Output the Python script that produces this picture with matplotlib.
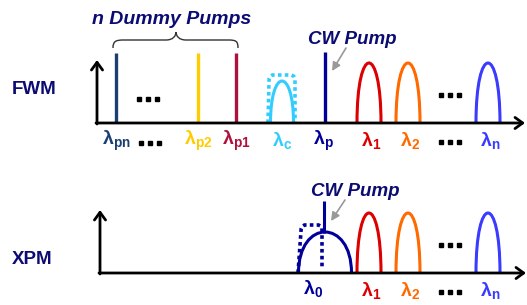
import matplotlib
matplotlib.use("Agg")
import matplotlib.pyplot as plt
from matplotlib.path import Path
from matplotlib.patches import PathPatch, FancyArrowPatch

plt.rcParams['font.family'] = ['Liberation Sans', 'DejaVu Sans']
plt.rcParams['mathtext.fontset'] = 'custom'
plt.rcParams['mathtext.rm'] = 'Liberation Sans'
plt.rcParams['mathtext.bf'] = 'Liberation Sans:bold'

NAVY = "#0b0b73"

# top panel (FWM)
pump_x = [116, 198, 236]
pump_labels = ["pn", "p2", "p1"]
pump_colors = ["#1c3f72", "#ffcc00", "#b0103c"]
cw_x = 325
signal_x = [369, 408, 488]
signal_labels = ["1", "2", "n"]
signal_colors = ["#dd0000", "#ff6a00", "#3b3bff"]
conj_x = 282
conj_color = "#33ccff"

# bottom panel (XPM)
xpm_probe_x = 313
xpm_probe_label = "0"


def arch(ax, xc, w, base, h, color, lw=2.2, ls='-'):
    c = base - 4.0 * h / 3.0
    x0, x1 = xc - w / 2, xc + w / 2
    p = Path([(x0, base), (x0, c), (x1, c), (x1, base)],
             [Path.MOVETO, Path.CURVE4, Path.CURVE4, Path.CURVE4])
    ax.add_patch(PathPatch(p, fill=False, edgecolor=color, lw=lw, ls=ls))


def flat_top(ax, x0, x1, base, top, color, end=None, lean=1):
    if end is None:
        end = base
    verts = [(x0, base), (x0 + lean, top + 6), (x0 + lean, top), (x0 + lean + 4, top),
             (x0 + lean + 4, top), (x1 - 4, top), (x1 - 4, top), (x1, top), (x1, top + 5),
             (x1, end)]
    codes = [Path.MOVETO, Path.LINETO, Path.CURVE4, Path.CURVE4, Path.CURVE4,
             Path.LINETO, Path.CURVE4, Path.CURVE4, Path.CURVE4, Path.LINETO]
    ax.add_patch(PathPatch(Path(verts, codes), fill=False, edgecolor=color,
                           lw=2.6, ls=(0, (1.0, 0.9))))


def dots(ax, xc, y):
    ax.plot([xc - 9, xc, xc + 9], [y, y, y], ls='none', marker='s',
            ms=3.4, color='black')


def lam(ax, x, y, sub, color):
    ax.text(x, y, r'$\mathbf{λ}_{\mathbf{%s}}$' % sub, color=color, fontsize=14,
            ha='center', va='center')


def axes_arrows(ax, x0, base, top, right):
    style = '->,head_length=0.55,head_width=0.4'
    ax.annotate('', xy=(x0, top), xytext=(x0, base + 1),
                arrowprops=dict(arrowstyle=style, lw=2.0, color='black',
                                shrinkA=0, shrinkB=0))
    ax.annotate('', xy=(right, base), xytext=(x0 - 1, base),
                arrowprops=dict(arrowstyle=style, lw=2.0, color='black',
                                shrinkA=0, shrinkB=0))


fig = plt.figure(figsize=(5.27, 3.05), dpi=100)
ax = fig.add_axes([0, 0, 1, 1])
ax.set_xlim(0, 527)
ax.set_ylim(305, 0)
ax.axis('off')

# ---- FWM ----
base1 = 123
ax.text(34, 90, "FWM", color=NAVY, fontsize=13.5, fontweight='bold',
        ha='center', va='center')
for x, c in zip(pump_x, pump_colors):
    ax.plot([x, x], [base1, 53], color=c, lw=2.4, solid_capstyle='butt')
ax.plot([cw_x, cw_x], [base1, 52], color="#000099", lw=2.4, solid_capstyle='butt')
for x, c in zip(signal_x, signal_colors):
    arch(ax, x, 24, base1, 60, c)
arch(ax, conj_x, 23, base1, 42, conj_color)
flat_top(ax, conj_x - 14, conj_x + 13, base1, 75, conj_color)
dots(ax, 148, 99)
dots(ax, 450, 95)
axes_arrows(ax, 97, base1, 60, 525)

# brace
brace = Path([(113, 48), (113, 41), (116, 40), (124, 40), (166, 40),
              (173, 40), (176, 36), (176, 32), (176, 36), (179, 40), (186, 40),
              (228, 40), (236, 40), (238, 41), (238, 48)],
             [Path.MOVETO, Path.CURVE4, Path.CURVE4, Path.CURVE4, Path.LINETO,
              Path.CURVE4, Path.CURVE4, Path.CURVE4, Path.CURVE4, Path.CURVE4, Path.CURVE4,
              Path.LINETO, Path.CURVE4, Path.CURVE4, Path.CURVE4])
ax.add_patch(PathPatch(brace, fill=False, edgecolor='#333333', lw=1.0))
ax.text(172, 19, "n Dummy Pumps", color=NAVY, fontsize=14, fontweight='bold',
        style='italic', ha='center', va='center')

ax.text(352, 40, "CW Pump", color=NAVY, fontsize=13.5, fontweight='bold',
        style='italic', ha='center', va='center')
ax.add_patch(FancyArrowPatch((346, 48), (332, 71), arrowstyle='-|>,head_length=5,head_width=2.5',
                             color='#999999', lw=1.2, shrinkA=0, shrinkB=0))

# labels
for x, s, c in zip(pump_x, pump_labels, pump_colors):
    lam(ax, x, 141, s, c)
lam(ax, conj_x, 141, "c", conj_color)
lam(ax, cw_x - 2, 141, "p", "#000099")
for x, s, c in zip(signal_x, signal_labels, signal_colors):
    lam(ax, x + 2, 141, s, c)
dots(ax, 150, 143)
dots(ax, 450, 142)

# ---- XPM ----
base2 = 273
ax.text(32, 260, "XPM", color=NAVY, fontsize=13.5, fontweight='bold',
        ha='center', va='center')
arch(ax, 325, 53, base2, 41, "#000099")
ax.plot([324, 324], [233, 201], color="#000099", lw=2.2, solid_capstyle='butt')
flat_top(ax, 298, 322, base2, 225, "#000099", end=268, lean=3)
for x, c in zip(signal_x, signal_colors):
    arch(ax, x, 24, base2, 60, c)
dots(ax, 450, 245)
axes_arrows(ax, 100, base2, 210, 526)

ax.text(355, 191, "CW Pump", color=NAVY, fontsize=13.5, fontweight='bold',
        style='italic', ha='center', va='center')
ax.add_patch(FancyArrowPatch((345, 200), (331, 221), arrowstyle='-|>,head_length=5,head_width=2.5',
                             color='#999999', lw=1.2, shrinkA=0, shrinkB=0))

lam(ax, xpm_probe_x, 289, xpm_probe_label, "#000099")
for x, s, c in zip(signal_x, signal_labels, signal_colors):
    lam(ax, x + 2, 291, s, c)
dots(ax, 450, 292)

fig.savefig("out.png", dpi=100)
